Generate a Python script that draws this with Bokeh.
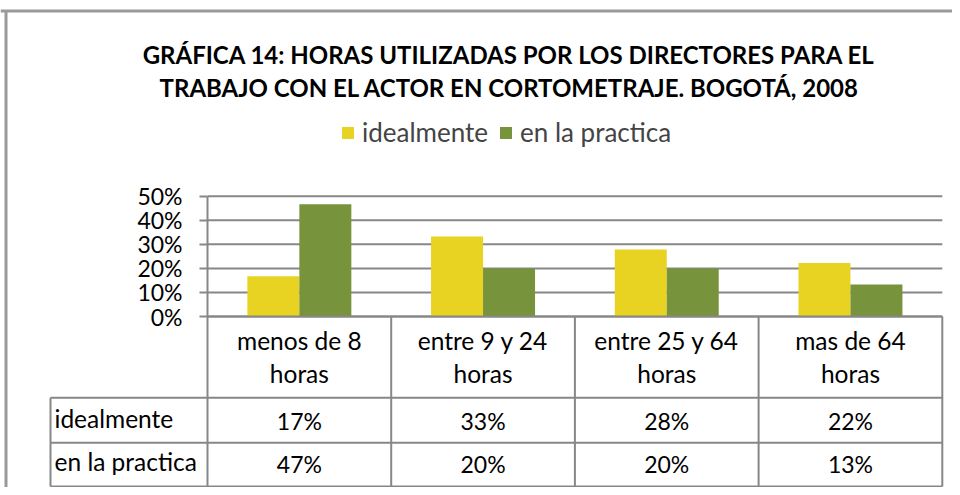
from bokeh.plotting import figure
from bokeh.models import (ColumnDataSource, Range1d, FixedTicker, NumeralTickFormatter,
                          Legend, LegendItem)
from bokeh.transform import dodge
from bokeh.core.properties import value
from bokeh.embed import file_html
from bokeh.resources import INLINE

# ---- data ----
categories = ["menos de 8\nhoras", "entre 9 y 24\nhoras", "entre 25 y 64\nhoras", "mas de 64\nhoras"]
series_names = ["idealmente", "en la practica"]
idealmente = [0.167, 0.333, 0.278, 0.222]
en_la_practica = [0.467, 0.200, 0.200, 0.133]
y_ticks = [0, 0.1, 0.2, 0.3, 0.4, 0.5]
title_lines = ["GRÁFICA 14: HORAS UTILIZADAS POR LOS DIRECTORES PARA EL",
               "TRABAJO CON EL ACTOR EN CORTOMETRAJE. BOGOTÁ, 2008"]

YELLOW = "#E8D322"
GREEN = "#77933C"
GRID = "#878787"
FONT = "Lato"
FS_NUM = "23px"
FS_TXT = "24.5px"
FS_LEG = "26px"

W, H = 952, 487
# layout helpers: pixel position on the canvas -> data coordinate
X0, XS = 207.0, 183.7    # x of first category's left edge, px per category
Y0, YS = 316.0, 240.6    # y of 0 %, px per 100 %


def fx(px):
    return (px - X0) / XS


def fy(py):
    return (Y0 - py) / YS


p = figure(width=W, height=H, x_range=Range1d(fx(0), fx(W)), y_range=Range1d(fy(H), fy(0)),
           output_backend="svg", toolbar_location=None, min_border=0)
p.outline_line_color = None
p.background_fill_color = "white"
p.border_fill_color = "white"
p.xaxis.visible = False
p.xgrid.visible = False
p.ygrid.visible = False

ncat = len(categories)
xc = [i + 0.5 for i in range(ncat)]
src = ColumnDataSource(dict(x=xc, ideal=idealmente, prac=en_la_practica))
r1 = p.vbar(x=dodge("x", -0.1415), top="ideal", width=0.283, source=src,
            fill_color=YELLOW, line_color=None)
r2 = p.vbar(x=dodge("x", 0.1415), top="prac", width=0.283, source=src,
            fill_color=GREEN, line_color=None)

# horizontal gridlines across the plot area
p.segment(x0=[0] * len(y_ticks), x1=[ncat] * len(y_ticks), y0=y_ticks, y1=y_ticks,
          line_color=GRID, line_width=2, level="underlay")

# y axis fixed at the first category edge, running down through the table
yax = p.yaxis[0]
yax.fixed_location = 0
yax.bounds = (fy(486), max(y_ticks))
yax.ticker = FixedTicker(ticks=y_ticks)
yax.formatter = NumeralTickFormatter(format="0%")
yax.major_label_text_font = FONT
yax.major_label_text_font_size = FS_NUM
yax.major_label_text_color = "black"
yax.axis_line_color = GRID
yax.axis_line_width = 2
yax.major_tick_line_color = GRID
yax.major_tick_line_width = 2
yax.major_tick_out = 8
yax.major_tick_in = 0
yax.minor_tick_line_color = None
yax.major_label_standoff = 17

# ---- data table ----
yh, ym, yb = fy(397.3), fy(442.3), fy(486)
xl = fx(50)
hx0 = [0, xl, xl, xl] + [xl] + [i + 1 for i in range(ncat)]
hx1 = [ncat, ncat, ncat, ncat] + [xl] + [i + 1 for i in range(ncat)]
hy0 = [0, yh, ym, yb] + [yh] + [0] * ncat
hy1 = [0, yh, ym, yb] + [yb] + [yb] * ncat
p.segment(x0=hx0, x1=hx1, y0=hy0, y1=hy1, line_color=GRID, line_width=2)

# header row: category names (two lines each)
head1 = [c.split("\n")[0] for c in categories]
head2 = [c.split("\n")[1] for c in categories]
p.text(x=xc + xc, y=[fy(340)] * ncat + [fy(372.5)] * ncat, text=head1 + head2,
       text_align="center", text_baseline="middle", text_font=value(FONT),
       text_font_size=FS_TXT, text_color="black")

# value rows
p.text(x=xc + xc, y=[fy(420.3)] * ncat + [fy(463.3)] * ncat,
       text=[f"{round(v * 100)}%" for v in idealmente] + [f"{round(v * 100)}%" for v in en_la_practica],
       text_align="center", text_baseline="middle", text_font=value(FONT),
       text_font_size=FS_NUM, text_color="black")
p.text(x=[fx(54)] * 2, y=[fy(417.5), fy(461)], text=series_names, text_align="left",
       text_baseline="middle", text_font=value(FONT), text_font_size=FS_TXT, text_color="black")

# outer chart frame (top and left edges)
p.segment(x0=[fx(0), fx(5.5)], x1=[fx(W), fx(5.5)], y0=[fy(10.5), fy(10.5)], y1=[fy(10.5), fy(H)],
          line_color="#9A9A9A", line_width=3)

# ---- title ----
p.text(x=[fx(508.5), fx(509)], y=[fy(53.5), fy(86.8)], text=title_lines, text_align="center",
       text_baseline="middle", text_font=value(FONT), text_font_style="bold",
       text_font_size="24px", text_color="black")

# ---- legend ----
legend = Legend(items=[LegendItem(label=series_names[0], renderers=[r1]),
                       LegendItem(label=series_names[1], renderers=[r2])],
                orientation="horizontal", location=(340, H - 148),
                glyph_width=15, glyph_height=15, label_standoff=7, spacing=10,
                label_text_font=FONT, label_text_font_size=FS_LEG, label_height=31,
                padding=0, margin=0, border_line_color=None, background_fill_alpha=0)
p.add_layout(legend, "center")

open("out.html", "w").write(file_html(p, INLINE))
